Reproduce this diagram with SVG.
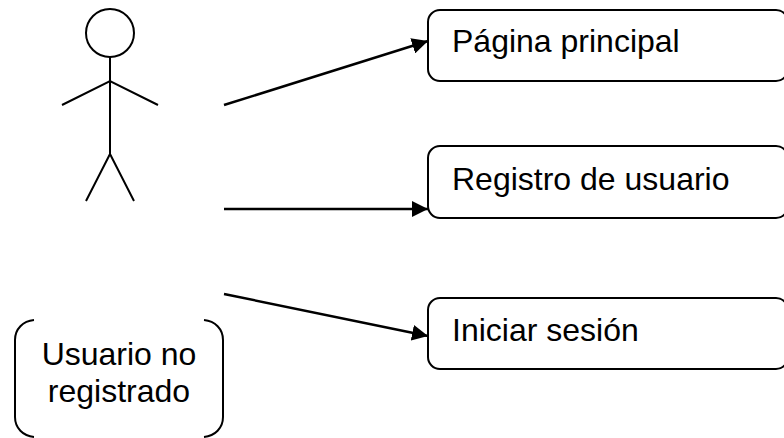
<svg xmlns="http://www.w3.org/2000/svg" width="784" height="438" viewBox="0 0 784 438">
<style>
.s{fill:none;stroke:#000;stroke-width:2}
.b{fill:#fff;stroke:#000;stroke-width:2}
.t{font-family:"Liberation Sans",Arial,sans-serif;font-size:32px;fill:#000}
.c{stroke:#000;stroke-width:2.5;fill:none;marker-end:url(#a)}
</style>
<defs>
<marker id="a" markerUnits="userSpaceOnUse" markerWidth="16" markerHeight="16" refX="16" refY="8" orient="auto">
<path d="M0 0L16 8L0 16Z" fill="#000"/>
</marker>
</defs>
<rect width="784" height="438" fill="#fff"/>
<g id="actor" class="s">
<circle cx="110" cy="33" r="24"/>
<path d="M110 57V154M62 105L110 81L158 105M86 201L110 154L134 201"/>
</g>
<g id="usuario-no-registrado">
<path class="s" d="M34 320C23 321 15 329 15 340V417C15 428 23 436 34 437M204 320C215 321 223 329 223 340V417C223 428 215 436 204 437"/>
<text class="t" x="119" y="365" text-anchor="middle">Usuario no</text>
<text class="t" x="119" y="402" text-anchor="middle">registrado</text>
</g>
<g id="pagina-principal">
<rect class="b" x="428" y="10" width="360" height="71" rx="12"/>
<text class="t" x="452" y="52">Página principal</text>
</g>
<g id="registro-de-usuario">
<rect class="b" x="428" y="146" width="360" height="72" rx="12"/>
<text class="t" x="452" y="190">Registro de usuario</text>
</g>
<g id="iniciar-sesion">
<rect class="b" x="428" y="298" width="360" height="71" rx="12"/>
<text class="t" x="452" y="341">Iniciar sesión</text>
</g>
<g id="connectors">
<line class="c" x1="224" y1="105" x2="428" y2="41"/>
<line class="c" x1="224" y1="209" x2="428" y2="209"/>
<line class="c" x1="224" y1="294" x2="428" y2="336"/>
</g>
</svg>
